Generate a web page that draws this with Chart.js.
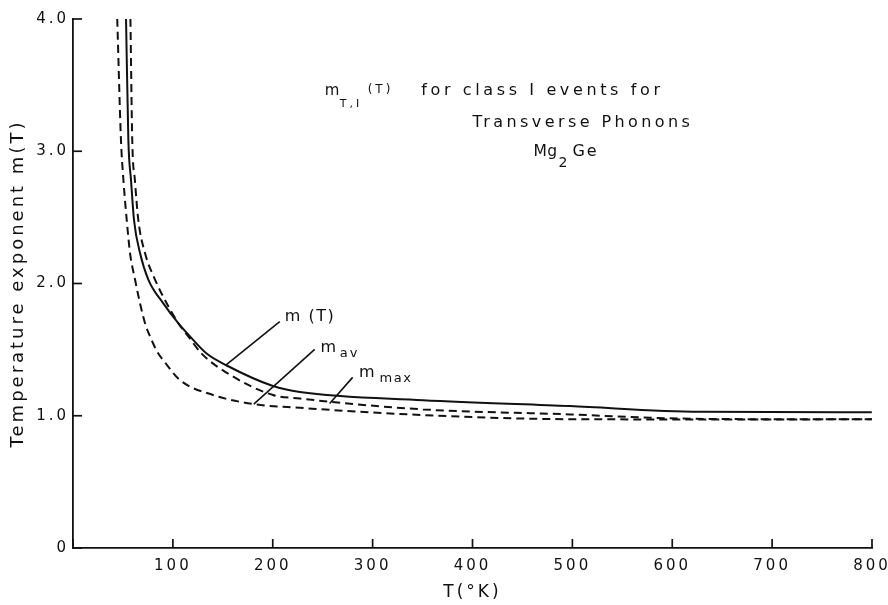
<!DOCTYPE html>
<html>
<head>
<meta charset="utf-8">
<script src="https://cdn.jsdelivr.net/npm/chart.js@4.4.0/dist/chart.umd.min.js"></script>
<style>
html,body{margin:0;padding:0;background:#fff;}
#wrap{width:888px;height:605px;}
</style>
</head>
<body>
<div id="wrap"><canvas id="c" width="888" height="605"></canvas></div>
<script>
// ---- data ----
// m(T) (solid)
const T_mT = [53.1, 55.4, 58.1, 61.1, 67.1, 75.4, 90.4, 105.4, 117.1, 133.8, 153.9, 200.2, 227.2, 350.4, 497.5, 627.6, 799.8];
const m_mT = [4.0, 3.09, 2.78, 2.48, 2.23, 2.03, 1.85, 1.70, 1.60, 1.47, 1.38, 1.225, 1.18, 1.118, 1.073, 1.03, 1.026];
// m_av (lower dashed)
const T_av = [44.3, 48.0, 50.5, 53.8, 57.1, 62.1, 67.1, 72.1, 77.1, 85.4, 90.4, 107.1, 140.1, 180.2, 227.2, 350.4, 497.5, 650, 799.8];
const m_av = [4.0, 3.09, 2.78, 2.48, 2.23, 2.03, 1.85, 1.70, 1.60, 1.47, 1.42, 1.27, 1.157, 1.089, 1.06, 1.005, 0.974, 0.972, 0.973];
// m_max (upper dashed)
const T_max = [57.5, 59.3, 62.0, 65.4, 72.1, 82.1, 93.8, 105.4, 115.4, 128.8, 157.2, 200.2, 227.2, 350.4, 497.5, 577.6, 650, 799.8];
const m_max = [4.0, 3.09, 2.78, 2.48, 2.23, 2.03, 1.85, 1.70, 1.60, 1.47, 1.31, 1.157, 1.13, 1.048, 1.01, 0.985, 0.975, 0.973];

const xTickLabels = ['100','200','300','400','500','600','700','800'];
const yTickLabels = ['0','1.0','2.0','3.0','4.0'];

// ---- annotations (in data units) ----
const FONT = '"DejaVu Sans", sans-serif';
const notes = [
  {text:'m', t0:252, m:3.427, size:15, sp:0},
  {text:'T,I', t0:267, m:3.336, size:11, sp:3},
  {text:'(T)', t0:295, m:3.44, size:12, sp:3},
  {text:'for class I events for', t0:348.7, t1:587.7, m:3.427, size:16},
  {text:'Transverse Phonons', t0:400, t1:617.7, m:3.187, size:16},
  {text:'Mg', t0:461, m:2.965, size:15.5, sp:0.5},
  {text:'2', t0:486, m:2.884, size:14, sp:0},
  {text:'Ge', t0:500, m:2.965, size:16, sp:2},
  {text:'m (T)', t0:212, m:1.716, size:16, sp:1.5},
  {text:'m', t0:247.7, m:1.484, size:16, sp:0},
  {text:'av', t0:267, m:1.446, size:13, sp:2},
  {text:'m', t0:286.3, m:1.294, size:16, sp:0},
  {text:'max', t0:307, m:1.257, size:13, sp:1.5}
];
const leaders = [
  [207, 1.711, 153, 1.383],
  [242, 1.502, 181, 1.088],
  [280, 1.290, 257, 1.093]
];

const toPts = (xs, ys) => xs.map((x, i) => ({x: x, y: ys[i]}));

const decor = {
  id: 'decor',
  beforeDraw(chart) {
    chart.ctx.letterSpacing = '3px';
  },
  afterDraw(chart) {
    const ctx = chart.ctx;
    const xs = chart.scales.x, ys = chart.scales.y;
    const ca = chart.chartArea;
    ctx.save();
    ctx.letterSpacing = '0px';
    ctx.strokeStyle = '#111';
    ctx.lineWidth = 1.7;
    // inward tick marks
    ys.ticks.forEach(t => {
      const py = ys.getPixelForValue(t.value);
      ctx.beginPath(); ctx.moveTo(ca.left, py); ctx.lineTo(ca.left + 9, py); ctx.stroke();
    });
    xs.ticks.forEach(t => {
      const px = xs.getPixelForValue(t.value);
      ctx.beginPath(); ctx.moveTo(px, ca.bottom); ctx.lineTo(px, ca.bottom - 9); ctx.stroke();
    });
    // leader lines
    ctx.lineWidth = 1.6;
    leaders.forEach(l => {
      ctx.beginPath();
      ctx.moveTo(xs.getPixelForValue(l[0]), ys.getPixelForValue(l[1]));
      ctx.lineTo(xs.getPixelForValue(l[2]), ys.getPixelForValue(l[3]));
      ctx.stroke();
    });
    // text
    ctx.fillStyle = '#111';
    ctx.textBaseline = 'alphabetic';
    ctx.textAlign = 'left';
    notes.forEach(n => {
      ctx.font = n.size + 'px ' + FONT;
      ctx.letterSpacing = '0px';
      const x0 = xs.getPixelForValue(n.t0);
      let k = n.sp;
      if (k === undefined) {
        const x1 = xs.getPixelForValue(n.t1);
        const w = ctx.measureText(n.text).width;
        k = (x1 - x0 - w) / (n.text.length - 1);
      }
      ctx.letterSpacing = k.toFixed(2) + 'px';
      ctx.fillText(n.text, x0, ys.getPixelForValue(n.m));
    });
    ctx.restore();
    ctx.letterSpacing = '0px';
  }
};

const lineBase = {
  borderColor: '#111',
  borderWidth: 2,
  pointRadius: 0,
  showLine: true,
  fill: false,
  cubicInterpolationMode: 'monotone'
};

new Chart(document.getElementById('c'), {
  type: 'scatter',
  data: {
    datasets: [
      Object.assign({label: 'm(T)', data: toPts(T_mT, m_mT)}, lineBase),
      Object.assign({label: 'm_av', data: toPts(T_av, m_av), borderDash: [8, 5]}, lineBase),
      Object.assign({label: 'm_max', data: toPts(T_max, m_max), borderDash: [8, 5]}, lineBase)
    ]
  },
  options: {
    responsive: false,
    animation: false,
    layout: {padding: {top: 19, right: 16, left: 0, bottom: 0}},
    plugins: {legend: {display: false}, tooltip: {enabled: false}},
    scales: {
      x: {
        type: 'linear', min: 0, max: 800,
        grid: {display: false, drawTicks: false},
        border: {display: true, color: '#111', width: 1.8},
        ticks: {
          stepSize: 100, padding: 9, color: '#111',
          font: {family: FONT, size: 15},
          maxRotation: 0,
          callback: v => (v === 0 ? '' : xTickLabels[v / 100 - 1])
        },
        title: {display: true, text: 'T(°K)', color: '#111', font: {family: FONT, size: 17}, padding: {top: 0, bottom: 2}},
        afterFit: s => { s.height = 57; s.paddingLeft = 0; s.paddingRight = 0; }
      },
      y: {
        type: 'linear', min: 0, max: 4,
        grid: {display: false, drawTicks: false},
        border: {display: true, color: '#111', width: 1.8},
        ticks: {
          stepSize: 1, padding: 4, color: '#111',
          font: {family: FONT, size: 15},
          callback: v => yTickLabels[v]
        },
        title: {display: true, text: 'Temperature exponent m(T)', color: '#111', font: {family: FONT, size: 18}, padding: {top: 8, bottom: 0}},
        afterFit: s => { s.width = 73; s.paddingTop = 0; s.paddingBottom = 0; }
      }
    }
  },
  plugins: [decor]
});
</script>
</body>
</html>
